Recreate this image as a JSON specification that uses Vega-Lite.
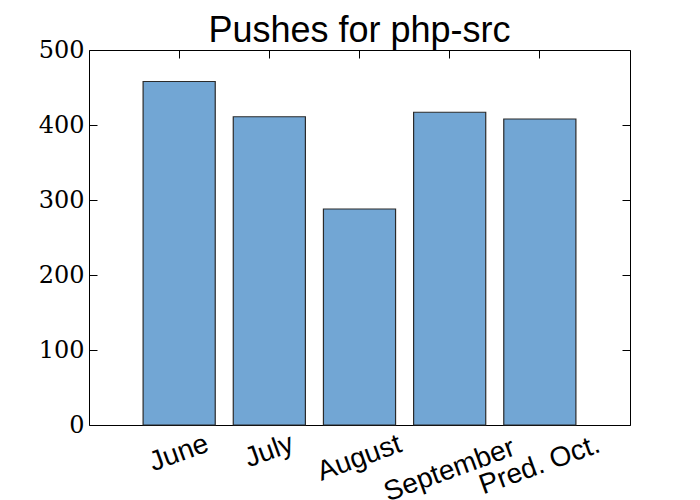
{
  "$schema": "https://vega.github.io/schema/vega-lite/v6.json",
  "width": 541,
  "height": 375,
  "autosize": "none",
  "padding": {"left": 89, "top": 50, "right": 70, "bottom": 75},
  "background": "white",
  "title": {"text": "Pushes for php-src", "font": "Liberation Sans", "fontSize": 36, "fontWeight": "normal", "color": "#000", "offset": -12},
  "data": {"values": [
    {"month": "June", "pushes": 458},
    {"month": "July", "pushes": 411},
    {"month": "August", "pushes": 288},
    {"month": "September", "pushes": 417},
    {"month": "Pred. Oct.", "pushes": 408}
  ]},
  "config": {"view": {"stroke": "#000", "strokeWidth": 1}, "axis": {"grid": false, "domain": false, "tickColor": "#000", "tickWidth": 1}},
  "layer": [
    {
      "mark": {"type": "bar", "fill": "#72a6d4", "stroke": "#2b2b2b", "strokeWidth": 1.2},
      "encoding": {
        "x": {"field": "month", "type": "nominal", "sort": null,
          "scale": {"paddingInner": 0.2, "paddingOuter": 0.6},
          "axis": {"title": null, "orient": "bottom", "tickSize": -8, "labelAngle": -20, "labelAlign": "center", "labelBaseline": "middle",
            "labelFont": "Liberation Sans", "labelFontSize": 28, "labelColor": "#000",
            "labelPadding": {"condition": [
              {"test": "datum.label == 'June'", "value": 36},
              {"test": "datum.label == 'July'", "value": 34},
              {"test": "datum.label == 'August'", "value": 41},
              {"test": "datum.label == 'September'", "value": 53}
            ], "value": 48}}},
        "y": {"field": "pushes", "type": "quantitative", "scale": {"domain": [0, 500], "nice": false},
          "axis": {"title": null, "orient": "left", "values": [0, 100, 200, 300, 400, 500], "tickSize": -8, "labelPadding": 13,
            "labelFont": "DejaVu Serif", "labelFontSize": 24, "labelColor": "#000", "labelFlush": false, "labelOverlap": false, "labelBaseline": "middle"}}
      }
    },
    {
      "mark": {"type": "bar", "opacity": 0},
      "encoding": {
        "x": {"field": "month", "type": "nominal", "sort": null,
          "scale": {"paddingInner": 0.2, "paddingOuter": 0.6},
          "axis": {"title": null, "orient": "top", "tickSize": -8, "labels": false}},
        "y": {"field": "pushes", "type": "quantitative", "scale": {"domain": [0, 500], "nice": false},
          "axis": {"title": null, "orient": "right", "values": [0, 100, 200, 300, 400, 500], "tickSize": -8, "labels": false}}
      }
    }
  ],
  "resolve": {"axis": {"x": "independent", "y": "independent"}}
}
